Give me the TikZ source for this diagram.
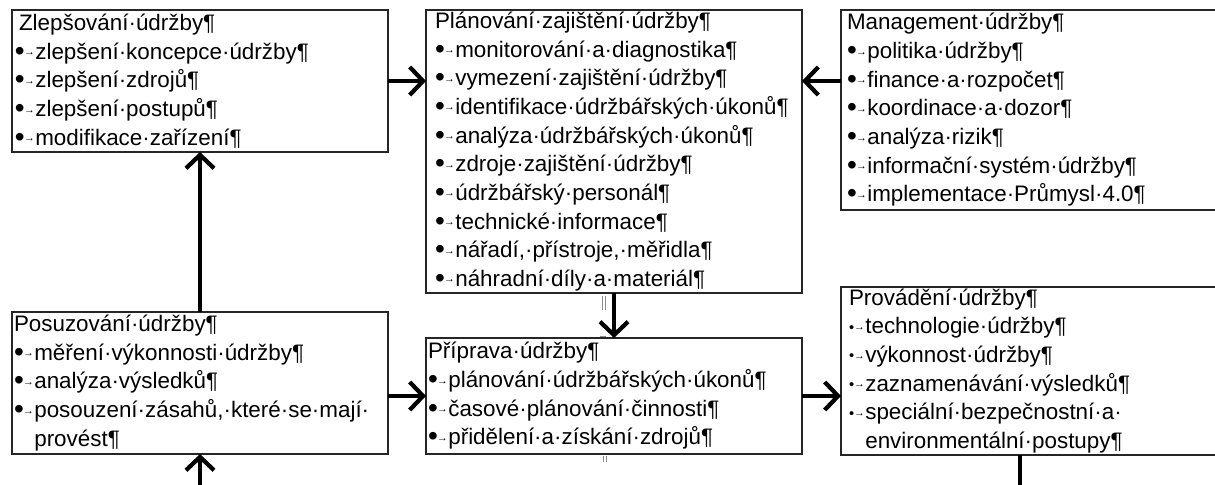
\documentclass[tikz,border=0pt]{standalone}
\usepackage{fontspec}
\setmainfont{Liberation Sans}
\usetikzlibrary{arrows.meta}
\newcommand{\tb}{\raisebox{2.6pt}{\fontsize{8pt}{8pt}\selectfont →}}
\newcommand{\bl}{\raisebox{-0.8pt}{\fontsize{21pt}{21pt}\selectfont •}\kern-0.5pt\tb\kern0.4pt}
\newcommand{\sbl}{\raisebox{1.2pt}{\fontsize{11pt}{11pt}\selectfont •}\tb\kern0.4pt}
\begin{document}
\begin{tikzpicture}[x=0.75pt,y=-0.75pt,
  box/.style={draw=black!85, line width=1pt, anchor=north west, outer sep=0pt,
    align=left, inner ysep=0pt, font=\fontsize{16.8pt}{21.5pt}\selectfont},
  arr/.style={line width=3.2pt, -{Straight Barb[length=10pt,width=21pt,line width=3.2pt]}},
  ln/.style={line width=3.2pt},
  anchormark/.style={line width=0.4pt, black!45}]
\clip (0,0) rectangle (1215,485);
\fill[white] (0,0) rectangle (1215,485);

\node[box, inner xsep=2.25pt, text width=277.5pt, minimum height=106.5pt] (b1) at (12,10)
 {\hspace{3pt}Zlepšování·údržby¶\\
  \bl zlepšení·koncepce·údržby¶\\
  \bl zlepšení·zdrojů¶\\
  \bl zlepšení·postupů¶\\
  \bl modifikace·zařízení¶};

\node[box, inner xsep=6.75pt, text width=268.5pt, minimum height=212.25pt] (b2) at (426,10)
 {Plánování·zajištění·údržby¶\\
  \bl monitorování·a·diagnostika¶\\
  \bl vymezení·zajištění·údržby¶\\
  \bl identifikace·údržbářských·úkonů¶\\
  \bl analýza·údržbářských·úkonů¶\\
  \bl zdroje·zajištění·údržby¶\\
  \bl údržbářský·personál¶\\
  \bl technické·informace¶\\
  \bl nářadí,·přístroje,·měřidla¶\\
  \bl náhradní·díly·a·materiál¶};

\node[box, inner xsep=4.5pt, text width=282.75pt, minimum height=150pt] (b3) at (841,10)
 {Management·údržby¶\\
  \bl politika·údržby¶\\
  \bl finance·a·rozpočet¶\\
  \bl koordinace·a·dozor¶\\
  \bl analýza·rizik¶\\
  \bl informační·systém·údržby¶\\
  \bl implementace·Průmysl·4.0¶};

\node[box, inner xsep=1.5pt, text width=279pt, minimum height=106.5pt] (b4) at (12,312)
 {Posuzování·údržby¶\\
  \bl měření·výkonnosti·údržby¶\\
  \bl analýza·výsledků¶\\
  \bl posouzení·zásahů,·které·se·mají·\\
  \phantom{\bl}provést¶};

\node[box, inner xsep=1.5pt, text width=279pt, minimum height=87pt] (b5) at (426,338)
 {Příprava·údržby¶\\
  \bl plánování·údržbářských·úkonů¶\\
  \bl časové·plánování·činnosti¶\\
  \bl přidělení·a·získání·zdrojů¶};

\node[box, inner xsep=6pt, text width=279.75pt, minimum height=126pt] (b6) at (841,287)
 {Provádění·údržby¶\\
  \sbl technologie·údržby¶\\
  \sbl výkonnost·údržby¶\\
  \sbl zaznamenávání·výsledků¶\\
  \sbl speciální·bezpečnostní·a·\\
  \phantom{\sbl}environmentální·postupy¶};

\coordinate (in4) at (200,492);
\coordinate (out6) at (1020,492);

\draw[arr] (b1.east) -- (b2.west |- b1.east);
\draw[arr] (b3.west |- b1.east) -- (b2.east |- b1.east);
\draw[arr] (b2.south) -- (b5.north);
\draw[arr] (b4.north) -- (b1.south);
\draw[arr] (in4) -- (b4.south);
\draw[arr] (b4.east |- b5.west) -- (b5.west);
\draw[arr] (b5.east) -- (b6.west |- b5.east);
\draw[ln] (b6.south -| out6) -- (out6);

\draw[anchormark] (602,296) -- (602,310) (605,296) -- (605,310);
\draw[anchormark] (600,336) -- (606,336);
\draw[anchormark] (603,456) -- (603,462) (606,456) -- (606,462);
\end{tikzpicture}
\end{document}
